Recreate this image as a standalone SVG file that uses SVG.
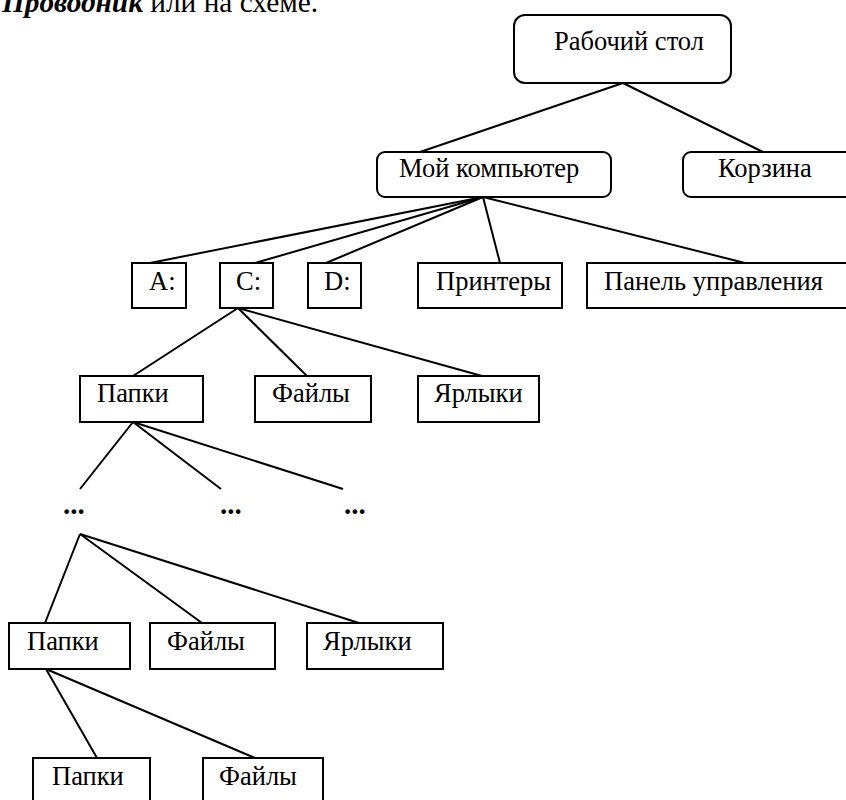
<svg xmlns="http://www.w3.org/2000/svg" width="846" height="800" viewBox="0 0 846 800">
<style>
.b{fill:#fff;stroke:#000;stroke-width:2}
.t{font-family:'Liberation Serif','Times New Roman',serif;font-size:26.5px;fill:#000}
.c line{stroke:#000;stroke-width:2}
.d{font-family:'Liberation Serif','Times New Roman',serif;font-size:29px;font-weight:bold;fill:#000}
</style>
<rect width="846" height="800" fill="#fff"/>
<text x="2" y="12" class="t" style="font-size:29.3px"><tspan font-weight="bold" font-style="italic">Проводник</tspan> или на схеме.</text>
<g class="c" id="connectors">
<line x1="623" y1="83" x2="420" y2="152"/>
<line x1="623" y1="83" x2="763" y2="152"/>
<line x1="483" y1="197" x2="150" y2="263"/>
<line x1="483" y1="197" x2="255" y2="263"/>
<line x1="483" y1="197" x2="326" y2="263"/>
<line x1="483" y1="197" x2="500" y2="263"/>
<line x1="483" y1="197" x2="745" y2="263"/>
<line x1="238" y1="308" x2="133" y2="376"/>
<line x1="238" y1="308" x2="307" y2="376"/>
<line x1="238" y1="308" x2="482" y2="376"/>
<line x1="133" y1="422" x2="80" y2="489"/>
<line x1="133" y1="422" x2="221" y2="489"/>
<line x1="133" y1="422" x2="343" y2="489"/>
<line x1="80" y1="534" x2="45" y2="623"/>
<line x1="80" y1="534" x2="202" y2="623"/>
<line x1="80" y1="534" x2="359" y2="623"/>
<line x1="46" y1="669" x2="97" y2="758"/>
<line x1="46" y1="669" x2="255" y2="758"/>
</g>
<g id="desktop"><rect class="b" x="514" y="15" width="217" height="68" rx="11"/><text class="t" x="554" y="50">Рабочий стол</text></g>
<g id="mycomputer"><rect class="b" x="377" y="152" width="234" height="45" rx="8"/><text class="t" x="399" y="177">Мой компьютер</text></g>
<g id="recycle"><rect class="b" x="683" y="152" width="170" height="45" rx="8"/><text class="t" x="718" y="177">Корзина</text></g>
<g id="driveA"><rect class="b" x="132" y="263" width="54" height="45"/><text class="t" x="149" y="290">A:</text></g>
<g id="driveC"><rect class="b" x="220" y="263" width="53" height="45"/><text class="t" x="236" y="290">C:</text></g>
<g id="driveD"><rect class="b" x="308" y="263" width="53" height="45"/><text class="t" x="324" y="290">D:</text></g>
<g id="printers"><rect class="b" x="418" y="263" width="144" height="45"/><text class="t" x="436" y="290">Принтеры</text></g>
<g id="control"><rect class="b" x="587" y="263" width="270" height="45"/><text class="t" x="604" y="290">Панель управления</text></g>
<g id="folders1"><rect class="b" x="80" y="376" width="123" height="46"/><text class="t" x="97" y="402">Папки</text></g>
<g id="files1"><rect class="b" x="255" y="376" width="116" height="46"/><text class="t" x="272" y="402">Файлы</text></g>
<g id="shortcuts1"><rect class="b" x="418" y="376" width="121" height="46"/><text class="t" x="434" y="402">Ярлыки</text></g>
<g id="dots1"><text class="d" x="63" y="514">...</text></g>
<g id="dots2"><text class="d" x="220" y="514">...</text></g>
<g id="dots3"><text class="d" x="344" y="514">...</text></g>
<g id="folders2"><rect class="b" x="9" y="623" width="121" height="46"/><text class="t" x="27" y="650">Папки</text></g>
<g id="files2"><rect class="b" x="150" y="623" width="125" height="46"/><text class="t" x="167" y="650">Файлы</text></g>
<g id="shortcuts2"><rect class="b" x="307" y="623" width="136" height="46"/><text class="t" x="323" y="650">Ярлыки</text></g>
<g id="folders3"><rect class="b" x="33" y="758" width="117" height="50"/><text class="t" x="52" y="785">Папки</text></g>
<g id="files3"><rect class="b" x="203" y="758" width="120" height="50"/><text class="t" x="219" y="785">Файлы</text></g>
</svg>
